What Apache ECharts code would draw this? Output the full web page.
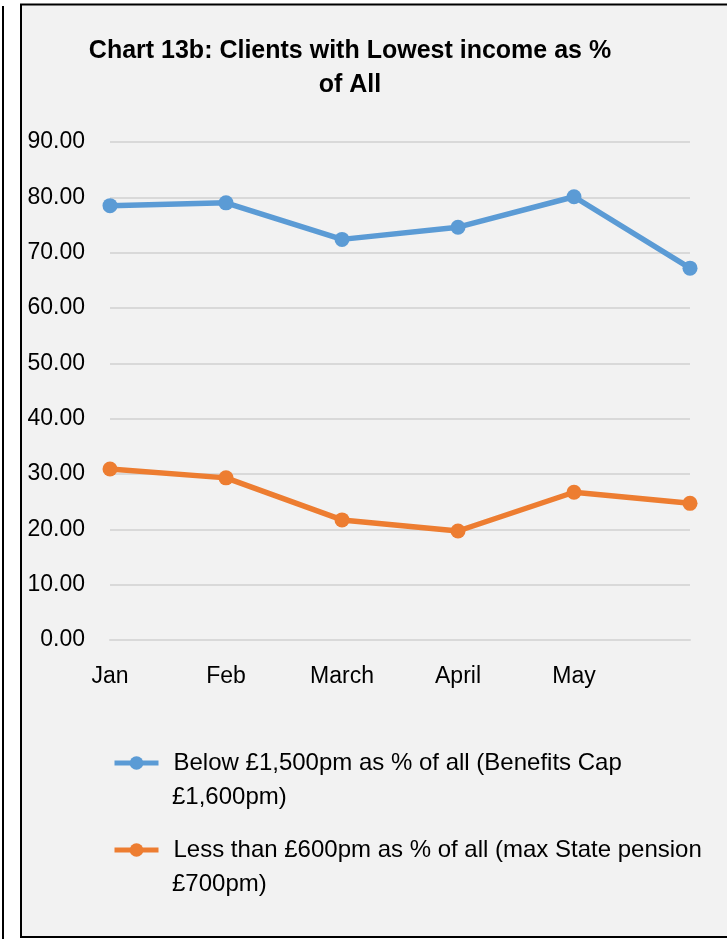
<!DOCTYPE html>
<html>
<head>
<meta charset="utf-8">
<script src="https://cdn.jsdelivr.net/npm/echarts@6/dist/echarts.min.js"></script>
<style>
  html, body { margin: 0; padding: 0; background: #ffffff; }
  #chart { width: 727px; height: 939px; }
</style>
</head>
<body>
<div id="chart"></div>
<script>
// chart data
const months = ['Jan', 'Feb', 'March', 'April', 'May', ''];
const below1500 = [78.5, 79.0, 72.4, 74.6, 80.1, 67.2];
const below600 = [30.9, 29.3, 21.7, 19.7, 26.7, 24.7];
const seriesNames = [
  'Below £1,500pm as % of all (Benefits Cap',
  'Less than £600pm as % of all (max State pension'
];
const secondLines = ['£1,600pm)', '£700pm)'];

const font = 'Liberation Sans, Arial, sans-serif';
const chart = echarts.init(document.getElementById('chart'));

chart.setOption({
  backgroundColor: '#ffffff',
  animation: false,
  graphic: [
    // outer frame pieces
    { type: 'rect', shape: { x: 2, y: 6, width: 2, height: 933 }, style: { fill: '#000' }, z: -5 },
    { type: 'rect', shape: { x: 21, y: 4.5, width: 720, height: 932.5 },
      style: { fill: '#f2f2f2', stroke: '#000', lineWidth: 2 }, z: -10 },
    // wrapped legend text
    { type: 'text', left: 172, top: 783,
      style: { text: secondLines[0], font: '24px ' + font, lineHeight: 28, fill: '#000' } },
    { type: 'text', left: 172, top: 870,
      style: { text: secondLines[1], font: '24px ' + font, lineHeight: 28, fill: '#000' } }
  ],
  title: {
    text: 'Chart 13b: Clients with Lowest income as %\nof All',
    left: 350,
    top: 34,
    padding: 0,
    textAlign: 'center',
    textStyle: { fontFamily: font, fontWeight: 'bold', fontSize: 25, lineHeight: 34, color: '#000' }
  },
  grid: { left: 110, right: 37, top: 142, bottom: 299 },
  legend: {
    orient: 'vertical',
    left: 107,
    top: 744,
    itemGap: 59,
    itemWidth: 44,
    itemHeight: 17,
    data: seriesNames,
    lineStyle: { width: 5 },
    textStyle: { fontFamily: font, fontSize: 24, lineHeight: 28, color: '#000', padding: [0, 0, 0, 10] }
  },
  xAxis: {
    type: 'category',
    data: months,
    boundaryGap: false,
    axisLine: { lineStyle: { color: '#d9d9d9', width: 2 } },
    axisTick: { show: false },
    axisLabel: { fontFamily: font, fontSize: 23, color: '#000', margin: 25 }
  },
  yAxis: {
    type: 'value',
    min: 0,
    max: 90,
    interval: 10,
    axisLine: { show: false },
    axisTick: { show: false },
    splitLine: { lineStyle: { color: '#d9d9d9', width: 2 } },
    axisLabel: {
      fontFamily: font, fontSize: 23, color: '#000', margin: 25,
      formatter: v => v.toFixed(2)
    }
  },
  series: [
    {
      name: seriesNames[0], type: 'line', data: below1500,
      symbol: 'circle', symbolSize: 15,
      lineStyle: { color: '#5b9bd5', width: 5.5 },
      itemStyle: { color: '#5b9bd5' }
    },
    {
      name: seriesNames[1], type: 'line', data: below600,
      symbol: 'circle', symbolSize: 15,
      lineStyle: { color: '#ed7d31', width: 5.5 },
      itemStyle: { color: '#ed7d31' }
    }
  ]
});
</script>
</body>
</html>
